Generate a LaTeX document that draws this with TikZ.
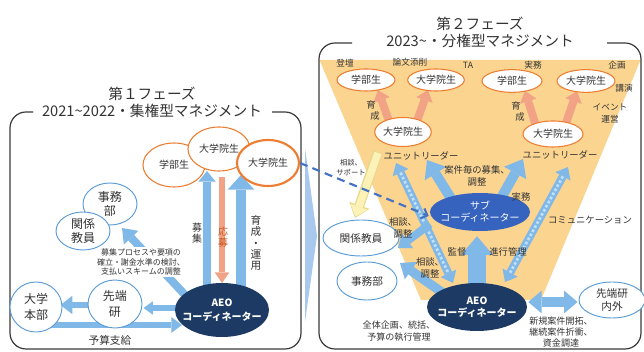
\documentclass[tikz,border=0pt]{standalone}
\usepackage{fontspec}
\setmainfont{Noto Sans CJK JP}
\usetikzlibrary{arrows.meta,shapes.geometric,calc}
\pgfdeclarelayer{back}
\pgfdeclarelayer{mid}
\pgfsetlayers{back,mid,main}
\definecolor{funnel}{HTML}{FBD490}
\definecolor{oedge}{HTML}{ED7D31}
\definecolor{bedge}{HTML}{5B9BD5}
\definecolor{arrb}{HTML}{80B8E8}
\definecolor{arrlt}{HTML}{C2E0F7}
\definecolor{salm}{HTML}{F2A385}
\definecolor{navy}{HTML}{1C3A63}
\definecolor{subb}{HTML}{3563BE}
\definecolor{txt}{HTML}{333333}
\definecolor{frm}{HTML}{3A3A3A}
\definecolor{chev}{HTML}{A8C8EE}
\definecolor{dashb}{HTML}{4472C4}
\definecolor{pyel}{HTML}{FCF2B8}
\definecolor{pyeld}{HTML}{E6D88C}
\definecolor{obrown}{HTML}{C9561E}
\begin{document}
\begin{tikzpicture}[x=0.75pt,y=-0.75pt,
 fs/.style 2 args={font=\fontsize{#1}{#2}\selectfont},
 oell/.style={ellipse, draw=oedge, fill=white, line width=0.8pt, inner sep=0pt, text=txt, align=center},
 bell/.style={ellipse, draw=bedge, fill=white, line width=0.7pt, inner sep=0pt, text=txt, align=center},
 nell/.style={ellipse, fill=navy, inner sep=0pt},
 lab/.style={text=txt, inner sep=0pt, align=center},
 wlab/.style={text=white, inner sep=0pt, align=center},
 ba/.style n args={3}{draw=arrb, line width=#1, -{Triangle[width=#2,length=#3,line width=0pt]}},
 sa/.style n args={3}{draw=salm, line width=#1, -{Triangle[width=#2,length=#3,line width=0pt]}},
 dba/.style n args={3}{draw=arrb, line width=#1, {Triangle[width=#2,length=#3,line width=0pt]}-{Triangle[width=#2,length=#3,line width=0pt]}},
 dov/.style={draw=arrlt, line width=2pt, dash pattern=on 2pt off 1.5pt},
 frame/.style={draw=frm, line width=0.9pt, rounded corners=12pt},
 dashc/.style={draw=dashb, line width=1.6pt, dash pattern=on 6pt off 4pt, -{Straight Barb[length=4pt,width=8pt]}},
]
\path[use as bounding box] (0,0) rectangle (644,352);

\begin{pgfonlayer}{back}
\fill[funnel] (319.5,60) -- (640.5,60) -- (541,300) -- (421,300) -- cycle;
\draw[frame] (33,112) -- (10,112) -- (10,349) -- (301,349) -- (301,112) -- (272,112);
\draw[frame] (352,43) -- (319,43) -- (319,349) -- (641,349) -- (641,43) -- (607,43);
\fill[chev] (305,148) -- (317,236) -- (305,322) -- cycle;
\end{pgfonlayer}

% titles
\node[lab, fs={11}{13}] (t1a) at (152,94) {第１フェーズ};
\node[lab, fs={11}{13}] (t1b) at (152,111) {2021\textasciitilde2022・集権型マネジメント};
\node[lab, fs={11}{13}] (t2a) at (480,24) {第２フェーズ};
\node[lab, fs={11}{13}] (t2b) at (480,41) {2023\textasciitilde・分権型マネジメント};

% ---------- left panel nodes ----------
\node[oell, minimum width=46.5pt, minimum height=33pt, fs={7.5}{9}] (gbL) at (174,165) {学部生};
\node[oell, minimum width=46.5pt, minimum height=33pt, fs={7.5}{9}] (gdL) at (219,149) {大学院生};
\node[oell, line width=1.6pt, minimum width=46.5pt, minimum height=34.5pt, fs={7.5}{9}] (grL) at (268,163) {大学院生};
\node[lab, fs={6}{7.2}, fill=white, inner sep=1pt] (proc) at (141,262) {募集プロセスや要項の\\確立・謝金水準の検討、\\支払いスキームの調整};
\node[bell, minimum width=40.5pt, minimum height=31.5pt, fs={9}{11}] (jimuL) at (110,204) {事務\\部};
\node[bell, minimum width=40.5pt, minimum height=28.5pt, fs={9}{11}] (kyoinL) at (83,231) {関係\\教員};
\node[bell, minimum width=39pt, minimum height=37.5pt, fs={9}{11.5}] (honbu) at (36,307) {大学\\本部};
\node[bell, minimum width=40.5pt, minimum height=36pt, fs={9}{11.5}] (sentanL) at (115,304) {先端\\研};
\node[nell, minimum width=70.5pt, minimum height=40.5pt] (aeoL) at (222,310) {};
\node[wlab, fs={7.5}{10.5}] (aeoLt) at (aeoL) {\bfseries AEO\\\bfseries コーディネーター};

% ---------- right panel nodes ----------
\node[oell, minimum width=43.5pt, minimum height=16.5pt, fs={7.5}{9}] (ga1) at (366,80) {学部生};
\node[oell, minimum width=40.5pt, minimum height=16.5pt, fs={7.5}{9}] (ga2) at (436,80) {大学院生};
\node[oell, minimum width=45pt, minimum height=17pt, fs={7.5}{9}] (ga3) at (512,81) {学部生};
\node[oell, minimum width=43.5pt, minimum height=17pt, fs={7.5}{9}] (ga4) at (586,81) {大学院生};
\node[oell, minimum width=40.5pt, minimum height=21.75pt, fs={7.5}{9}] (gl) at (403,132) {大学院生};
\node[oell, minimum width=45pt, minimum height=19.5pt, fs={7.5}{9}] (gr) at (553,134) {大学院生};
\node[ellipse, fill=subb, inner sep=0pt, minimum width=75pt, minimum height=28.5pt] (sub) at (480,212) {};
\node[wlab, fs={7.5}{9}] (subt) at (sub) {サブ\\コーディネーター};
\node[nell, minimum width=75pt, minimum height=36pt] (aeoR) at (477,307) {};
\node[wlab, fs={7.5}{9}] (aeoRt) at (aeoR) {\bfseries AEO\\\bfseries コーディネーター};
\node[bell, minimum width=45pt, minimum height=28.5pt, fs={8}{10}] (jimuR) at (367,281) {事務部};
\node[bell, minimum width=57pt, minimum height=27pt, fs={8}{10}] (kyoinR) at (361,238) {関係教員};
\node[bell, minimum width=49.5pt, minimum height=27pt, fs={8}{10}] (sentanR) at (612,300) {先端研\\内外};
\node[lab, fs={7}{8}] (ulL) at (421,156) {ユニットリーダー};
\node[lab, fs={7}{8}] (ulR) at (560,155) {ユニットリーダー};

% ---------- arrows ----------
\begin{pgfonlayer}{mid}
% left panel
\draw[ba={6pt}{13pt}{8pt}] ($(aeoL)+(-15,-20)$) -- ($(gdL)+(-12,22)$);
\draw[sa={5pt}{11pt}{8pt}] ($(gdL)+(3,28)$) -- ($(aeoL)+(0,-27)$);
\draw[ba={8pt}{20pt}{11pt}] ($(aeoL)+(19,-20)$) -- ($(grL)+(-27,12)$);
\draw[ba={6pt}{15pt}{10pt}] ($(aeoL)+(-34,-12)$) -- ($(jimuL)+(12,24)$);
\draw[ba={4pt}{10pt}{7pt}] ($(aeoL.west)+(2,-2)$) -- ($(sentanL.east)+(1,4)$);
\draw[ba={5pt}{14pt}{9pt}] ($(sentanL.west)+(2,1)$) -- ($(honbu.east)+(-2,-2)$);
\draw[ba={4.5pt}{12pt}{8pt}] ($(honbu)+(14,18)$) -- ($(aeoL)+(-40,15)$);
% right panel: salmon
\draw[sa={6pt}{13pt}{8pt}] ($(gl)+(-13,-8)$) -- ($(ga1)+(12,10)$);
\draw[sa={6pt}{13pt}{8pt}] ($(gl)+(13,-8)$) -- ($(ga2)+(-8,10)$);
\draw[sa={6pt}{13pt}{8pt}] ($(gr)+(-17,-8)$) -- ($(ga3)+(13,10)$);
\draw[sa={6pt}{13pt}{8pt}] ($(gr)+(12,-8)$) -- ($(ga4)+(-9,10)$);
% unit leader
\draw[ba={7.5pt}{19pt}{12pt}] ($(sub)+(-28,-12)$) -- ($(ulL)+(6,4)$);
\draw[ba={7.5pt}{19pt}{12pt}] ($(sub)+(20,-12)$) -- ($(ulR)+(-37,4)$);
% communication double arrows
\draw[dba={6pt}{13pt}{8pt}] ($(ulL)+(-25,7)$) -- ($(aeoR)+(-24,-24)$);
\draw[dov, shorten <=8pt, shorten >=8pt] ($(ulL)+(-25,7)$) -- ($(aeoR)+(-24,-24)$);
\draw[dba={6pt}{13pt}{8pt}] ($(ulR)+(8,12)$) -- ($(aeoR)+(28,-25)$);
\draw[dov, shorten <=8pt, shorten >=8pt] ($(ulR)+(8,12)$) -- ($(aeoR)+(28,-25)$);
% to kyoin
\draw[ba={6pt}{14pt}{9pt}] ($(sub)+(-50,12)$) -- ($(kyoinR)+(37,10)$);
\draw[ba={7pt}{16pt}{10pt}] ($(aeoR)+(-34,-14)$) -- ($(jimuR)+(33,-18)$);
% AEO to sub
\draw[ba={13pt}{24pt}{14pt}] ($(aeoR)+(0,-15)$) -- ($(aeoR.north |- sub.south)+(0,5)$);
% AEO <-> sentan
\draw[dba={7pt}{17pt}{10pt}] ($(aeoR.east)+(1,-5)$) -- ($(sentanR.west)+(-1,2)$);
% pale yellow
\draw[draw=pyeld, line width=7.4pt, -{Triangle[width=16pt,length=10pt,line width=0pt]}] ($(gl)+(-25,20)$) -- ($(kyoinR)+(-6,-20)$);
\draw[draw=pyel, line width=5.6pt, shorten >=1pt, -{Triangle[width=13.5pt,length=8pt,line width=0pt]}] ($(gl)+(-25,21)$) -- ($(kyoinR)+(-6,-20)$);
% dashed connector
\draw[dashc] (grL.east) -- ($(sub.west)+(-1,4)$);
\end{pgfonlayer}

% ---------- labels left ----------
\node[lab, fs={7.5}{8}] (lbo) at (197,233) {募\\集};
\node[lab, fs={7.5}{8}, text=obrown] (lou) at (223,237) {応\\募};
\node[lab, fs={8}{8.5}] (liku) at (256,243) {育\\成\\・\\運\\用};
\node[lab, fs={8}{9}] (lyosan) at (110,340) {予算支給};

% ---------- labels right ----------
\node[lab, fs={6.5}{7}] (l1) at (345,63) {登壇};
\node[lab, fs={6.5}{7}] (l2) at (410,62) {論文添削};
\node[lab, fs={6.5}{7}] (l3) at (468,65) {TA};
\node[lab, fs={6.5}{7}] (l4) at (533,65) {実務};
\node[lab, fs={6.5}{7}] (l5) at (617,65) {企画};
\node[lab, fs={6.5}{7}] (l6) at (624,88) {講演};
\node[lab, fs={6.5}{9}] (l7) at (610,113) {イベント\\運営};
\node[lab, fs={7}{7.5}] (l8a) at (371,105) {育};
\node[lab, fs={7}{7.5}] (l8b) at (375,116) {成};
\node[lab, fs={7}{7.5}] (l9a) at (516,106) {育};
\node[lab, fs={7}{7.5}] (l9b) at (520,117) {成};
\node[lab, fs={5.5}{7.5}] (l10) at (351,168) {相談、\\サポート};
\node[lab, fs={7}{8.3}] (l11) at (477,176) {案件毎の募集、\\調整};
\node[lab, fs={7}{8}] (l12) at (521,197) {実務};
\node[lab, fs={7}{8.3}] (l13) at (403,228) {相談、\\調整};
\node[lab, fs={7}{8}] (l14) at (590,220) {コミュニケーション};
\node[lab, fs={7}{8}] (l15) at (457,252) {監督};
\node[lab, fs={7}{8}] (l16) at (508,252) {進行管理};
\node[lab, fs={7}{8.3}] (l17) at (430,268) {相談、\\調整};
\node[lab, fs={6.8}{9}] (l18) at (399,331) {全体企画、統括、\\予算の執行管理};
\node[lab, fs={6.8}{8.3}] (l19) at (561,332) {新規案件開拓、\\継続案件折衝、\\資金調達};
\end{tikzpicture}
\end{document}
